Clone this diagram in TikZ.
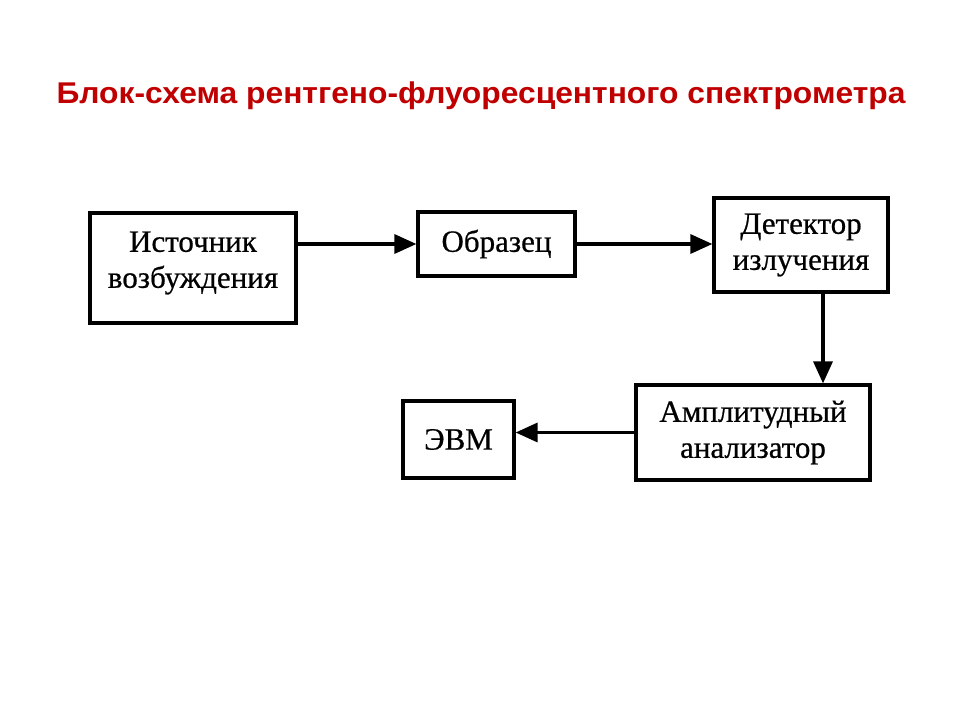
\documentclass[tikz,border=0pt]{standalone}
\usepackage{fontspec}
\setmainfont[FakeBold=0.6]{Liberation Serif}
\newfontfamily\titlefont[FakeStretch=1.06]{Liberation Sans}
\usetikzlibrary{arrows.meta}
\definecolor{titlered}{RGB}{192,0,0}
\tikzset{
  blok/.style={draw, line width=3.2pt, align=center, inner sep=0pt,
    font=\fontsize{31}{36}\selectfont},
  strelka/.style={line width=3.3pt, -{Triangle[length=22pt,width=19pt]}}
}
\begin{document}
\begin{tikzpicture}[x=1pt, y=-1pt]
  \useasboundingbox [fill=white] (0, 0) rectangle (960, 720);
  % заголовок
  \node (title) at (481, 96) [font=\titlefont\bfseries\fontsize{30}{34}\selectfont, text=titlered]
    {Блок-схема рентгено-флуоресцентного спектрометра};
  % блоки
  \node (ist) at (193, 268) [blok, minimum width=206pt, minimum height=110pt] {};
  \node (ist-text) at ([yshift=5pt]ist) [blok, draw=none] {Источник\\возбуждения};
  \node (obr) at (496.5, 244) [blok, minimum width=157pt, minimum height=64pt] {Образец};
  \node (det) at (801, 245) [blok, minimum width=174pt, minimum height=94pt] {Детектор\\излучения};
  \node (amp) at (753, 432.5) [blok, minimum width=234pt, minimum height=95pt] {Амплитудный\\анализатор};
  \node (evm) at (458.5, 439.5) [blok, minimum width=111pt, minimum height=77pt] {ЭВМ};
  % стрелки
  \draw [strelka] (ist.east |- obr.west) -- (obr.west);
  \draw [strelka] (obr.east) -- (obr.east -| det.west);
  \draw [strelka] ([xshift=22pt]det.south) -- ([xshift=22pt]det.south |- amp.north);
  \draw [strelka] (amp.west) -- (amp.west -| evm.east);
\end{tikzpicture}
\end{document}
